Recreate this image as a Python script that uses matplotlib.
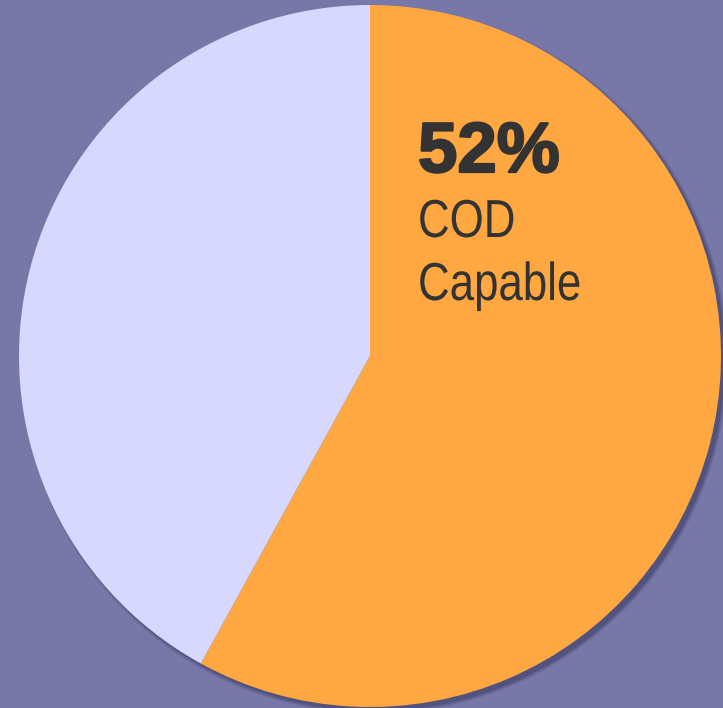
import matplotlib.pyplot as plt
from matplotlib.patches import Circle
from matplotlib.patheffects import AbstractPathEffect, withStroke
from matplotlib.transforms import Affine2D

labels = ['COD Capable', 'Other']
values = [58, 42]
colors = ['#FFA741', '#D8D8FF']
headline = '52%'
caption = ['COD', 'Capable']


class Squeeze(AbstractPathEffect):
    # narrow the glyphs horizontally around x0 (display pixels)
    def __init__(self, sx, x0):
        super().__init__()
        self.sx = sx
        self.x0 = x0

    def draw_path(self, renderer, gc, tpath, affine, rgbFace=None):
        t = affine + Affine2D().translate(-self.x0, 0).scale(self.sx, 1).translate(self.x0, 0)
        renderer.draw_path(gc, tpath, t, rgbFace)


W, H = 723, 708
fig = plt.figure(figsize=(W / 100, H / 100), dpi=100)
fig.patch.set_facecolor('#7878A8')
ax = fig.add_axes([0, 0, 1, 1])

cx, cy, r = 370, H - 356, 351

# soft shadow
for k, a in enumerate([0.10, 0.12, 0.15, 0.2]):
    ax.add_patch(Circle((cx + 4, cy - 4), r + 3 - k, color='#2a2a50', alpha=a, lw=0, zorder=1))

ax.pie(values, colors=colors, startangle=90, counterclock=False,
       center=(cx, cy), radius=r, frame=True,
       wedgeprops=dict(linewidth=0, zorder=2))
ax.set_xlim(0, W)
ax.set_ylim(0, H)
ax.set_aspect('equal')
ax.axis('off')

tx = 418
ax.text(tx, H - 172, headline, fontsize=51, fontweight='bold', family='Liberation Sans',
        color='#333333', va='baseline', ha='left', zorder=5,
        path_effects=[withStroke(linewidth=1.6, foreground='#333333')])
for i, line in enumerate(caption):
    ax.text(tx, H - 237 - 63 * i, line, fontsize=38.5, family='Liberation Sans',
            color='#333333', va='baseline', ha='left', zorder=5,
            path_effects=[Squeeze(0.82, tx)])

fig.savefig('out.png', dpi=100, facecolor=fig.get_facecolor())
